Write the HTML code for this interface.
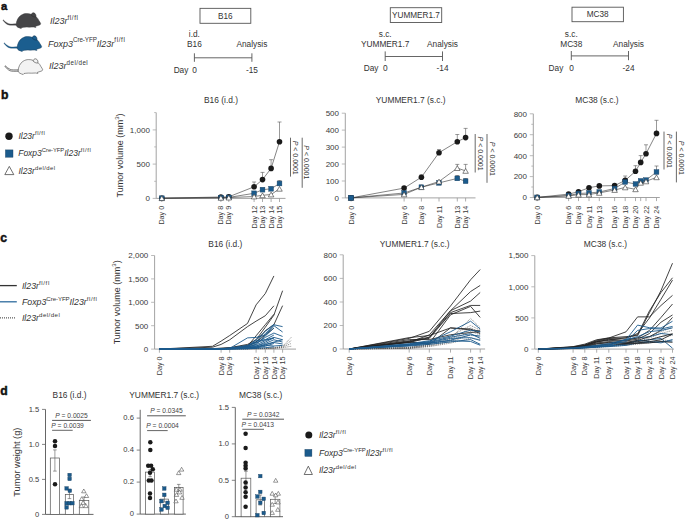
<!DOCTYPE html>
<html><head><meta charset="utf-8"><title>Figure</title>
<style>
html,body{margin:0;padding:0;background:#fff;overflow:hidden;width:685px;height:521px;}
svg{display:block;font-family:"Liberation Sans", sans-serif;fill:#333;}
</style></head>
<body>
<svg width="685" height="521" viewBox="0 0 685 521">
<rect width="685" height="521" fill="#fff"/>
<text x="1.0" y="10.3" font-size="11.3" font-weight="bold" fill="#111" stroke="#111" stroke-width="0.45">a</text>
<g transform="translate(0,0)"><path d="M16.9,23.8 C13,23.9 10,24.1 8.2,23.4 C6.5,22.7 4.8,21.2 3.4,19.9 C3.1,19.7 2.8,20.1 3.0,20.4 C4.4,22.2 6,23.8 7.8,24.7 C9.8,25.5 13,25.3 16.9,25.2 Z" fill="#454547" stroke="#3a3a3c" stroke-width="0.25"/><path d="M16.1,25.1 C16.3,21 18,17.3 21,15.3 C23,14 25,13.6 26.3,13.6 C28,13.5 29.8,13.8 31,14.3 C35,15.2 37.6,17.6 38.9,20.5 C39.8,21.8 40.5,23 40.7,23.8 C40.4,24.6 39.9,25 39.4,25.1 C38,25.6 36.8,26 35.5,26.3 L35.9,27.4 L33.5,27 C31,27.2 28.5,27.2 26.3,27.1 C24.5,27.2 23,27.3 22,27.5 L21.2,28.5 L19.6,28 C18.3,27.6 17.3,27 16.8,26.4 Z" fill="#454547" stroke="#3a3a3c" stroke-width="0.5" stroke-linejoin="round"/><path d="M31.0,14.9 C31.4,13.8 32.2,12.9 33.3,12.8 C34.4,12.7 35.3,13.7 35.8,14.9 C36.1,15.7 36.1,16.5 35.7,17.1 C34.2,17.1 32.3,16.4 31.0,14.9 Z" fill="#454547" stroke="#2a2a2c" stroke-width="0.55"/></g>
<g transform="translate(1.0,23.0)"><path d="M16.9,23.8 C13,23.9 10,24.1 8.2,23.4 C6.5,22.7 4.8,21.2 3.4,19.9 C3.1,19.7 2.8,20.1 3.0,20.4 C4.4,22.2 6,23.8 7.8,24.7 C9.8,25.5 13,25.3 16.9,25.2 Z" fill="#1b5e8f" stroke="#173c5a" stroke-width="0.25"/><path d="M16.1,25.1 C16.3,21 18,17.3 21,15.3 C23,14 25,13.6 26.3,13.6 C28,13.5 29.8,13.8 31,14.3 C35,15.2 37.6,17.6 38.9,20.5 C39.8,21.8 40.5,23 40.7,23.8 C40.4,24.6 39.9,25 39.4,25.1 C38,25.6 36.8,26 35.5,26.3 L35.9,27.4 L33.5,27 C31,27.2 28.5,27.2 26.3,27.1 C24.5,27.2 23,27.3 22,27.5 L21.2,28.5 L19.6,28 C18.3,27.6 17.3,27 16.8,26.4 Z" fill="#1b5e8f" stroke="#173c5a" stroke-width="0.5" stroke-linejoin="round"/><path d="M31.0,14.9 C31.4,13.8 32.2,12.9 33.3,12.8 C34.4,12.7 35.3,13.7 35.8,14.9 C36.1,15.7 36.1,16.5 35.7,17.1 C34.2,17.1 32.3,16.4 31.0,14.9 Z" fill="#1b5e8f" stroke="#12304a" stroke-width="0.55"/></g>
<g transform="translate(2.0,46.0)"><path d="M16.9,23.8 C13,23.9 10,24.1 8.2,23.4 C6.5,22.7 4.8,21.2 3.4,19.9 C3.1,19.7 2.8,20.1 3.0,20.4 C4.4,22.2 6,23.8 7.8,24.7 C9.8,25.5 13,25.3 16.9,25.2 Z" fill="#f3f3f3" stroke="#2a2a2a" stroke-width="0.6"/><path d="M16.1,25.1 C16.3,21 18,17.3 21,15.3 C23,14 25,13.6 26.3,13.6 C28,13.5 29.8,13.8 31,14.3 C35,15.2 37.6,17.6 38.9,20.5 C39.8,21.8 40.5,23 40.7,23.8 C40.4,24.6 39.9,25 39.4,25.1 C38,25.6 36.8,26 35.5,26.3 L35.9,27.4 L33.5,27 C31,27.2 28.5,27.2 26.3,27.1 C24.5,27.2 23,27.3 22,27.5 L21.2,28.5 L19.6,28 C18.3,27.6 17.3,27 16.8,26.4 Z" fill="#f3f3f3" stroke="#2a2a2a" stroke-width="0.5" stroke-linejoin="round"/><path d="M31.0,14.9 C31.4,13.8 32.2,12.9 33.3,12.8 C34.4,12.7 35.3,13.7 35.8,14.9 C36.1,15.7 36.1,16.5 35.7,17.1 C34.2,17.1 32.3,16.4 31.0,14.9 Z" fill="#f3f3f3" stroke="#2a2a2a" stroke-width="0.55"/></g>
<text x="50.00" y="23.60" font-size="9.0" font-style="italic">Il23r<tspan font-size="6.30" font-style="normal" letter-spacing="0.6" dy="-4.05">fl/fl</tspan></text>
<text x="48.00" y="46.50" font-size="9.0" font-style="italic">Foxp3<tspan font-size="6.30" font-style="normal" letter-spacing="-0.1" dy="-4.05">Cre-YFP</tspan><tspan dy="4.05">Il23r</tspan><tspan font-size="6.30" font-style="normal" letter-spacing="0.6" dy="-4.05">fl/fl</tspan></text>
<text x="49.00" y="69.20" font-size="9.0" font-style="italic">Il23r<tspan font-size="6.30" font-style="normal" letter-spacing="0.45" dy="-4.05">del/del</tspan></text>
<rect x="200.00" y="8.35" width="50.80" height="14.95" fill="none" stroke="#555" stroke-width="0.9"/>
<text x="225.40" y="18.80" font-size="8.2" text-anchor="middle">B16</text>
<text x="194.40" y="36.90" font-size="8.3" text-anchor="middle">i.d.</text>
<text x="194.40" y="46.60" font-size="8.3" text-anchor="middle">B16</text>
<text x="251.90" y="46.60" font-size="8.3" text-anchor="middle">Analysis</text>
<line x1="194.40" y1="53.30" x2="194.40" y2="61.80" stroke="#555" stroke-width="0.9" />
<line x1="251.90" y1="53.30" x2="251.90" y2="61.80" stroke="#555" stroke-width="0.9" />
<line x1="194.40" y1="57.80" x2="251.90" y2="57.80" stroke="#555" stroke-width="0.9" />
<text x="194.60" y="73.00" font-size="8.3" text-anchor="middle">0</text>
<text x="188.40" y="73.00" font-size="8.3" text-anchor="end">Day</text>
<text x="251.90" y="73.00" font-size="8.3" text-anchor="middle">-15</text>
<rect x="390.30" y="7.70" width="51.40" height="14.80" fill="none" stroke="#555" stroke-width="0.9"/>
<text x="416.00" y="18.00" font-size="8.2" text-anchor="middle">YUMMER1.7</text>
<text x="385.20" y="36.90" font-size="8.3" text-anchor="middle">s.c.</text>
<text x="385.20" y="46.60" font-size="8.3" text-anchor="middle">YUMMER1.7</text>
<text x="442.50" y="46.60" font-size="8.3" text-anchor="middle">Analysis</text>
<line x1="385.20" y1="51.40" x2="385.20" y2="61.00" stroke="#555" stroke-width="0.9" />
<line x1="442.50" y1="51.40" x2="442.50" y2="61.00" stroke="#555" stroke-width="0.9" />
<line x1="385.20" y1="56.50" x2="442.50" y2="56.50" stroke="#555" stroke-width="0.9" />
<text x="385.40" y="71.10" font-size="8.3" text-anchor="middle">0</text>
<text x="378.50" y="71.10" font-size="8.3" text-anchor="end">Day</text>
<text x="442.50" y="71.10" font-size="8.3" text-anchor="middle">-14</text>
<rect x="572.00" y="7.20" width="51.40" height="14.50" fill="none" stroke="#555" stroke-width="0.9"/>
<text x="597.70" y="17.40" font-size="8.2" text-anchor="middle">MC38</text>
<text x="571.30" y="36.90" font-size="8.3" text-anchor="middle">s.c.</text>
<text x="571.30" y="46.60" font-size="8.3" text-anchor="middle">MC38</text>
<text x="628.50" y="46.60" font-size="8.3" text-anchor="middle">Analysis</text>
<line x1="571.30" y1="51.00" x2="571.30" y2="60.20" stroke="#555" stroke-width="0.9" />
<line x1="628.50" y1="51.00" x2="628.50" y2="60.20" stroke="#555" stroke-width="0.9" />
<line x1="571.30" y1="55.90" x2="628.50" y2="55.90" stroke="#555" stroke-width="0.9" />
<text x="571.50" y="70.70" font-size="8.3" text-anchor="middle">0</text>
<text x="563.30" y="70.70" font-size="8.3" text-anchor="end">Day</text>
<text x="628.50" y="70.70" font-size="8.3" text-anchor="middle">-24</text>
<text x="1.0" y="98.7" font-size="12.2" font-weight="bold" fill="#111" stroke="#111" stroke-width="0.45">b</text>
<circle cx="9.00" cy="136.20" r="3.7" fill="#1a1a1a"/>
<text x="18.40" y="138.90" font-size="8.5" font-style="italic">Il23r<tspan font-size="5.95" font-style="normal" letter-spacing="0.6" dy="-3.83">fl/fl</tspan></text>
<rect x="5.40" y="149.90" width="7.60" height="7.30" fill="#1b5b8c" stroke="#1a3f5f" stroke-width="0.4"/>
<text x="18.20" y="155.80" font-size="8.5" font-style="italic">Foxp3<tspan font-size="5.95" font-style="normal" letter-spacing="-0.1" dy="-3.83">Cre-YFP</tspan><tspan dy="3.83">Il23r</tspan><tspan font-size="5.95" font-style="normal" letter-spacing="0.6" dy="-3.83">fl/fl</tspan></text>
<path d="M4.8,174.6 L9.3,166.4 L13.8,174.6 Z" fill="#fff" stroke="#333" stroke-width="0.7"/>
<text x="18.40" y="173.70" font-size="8.5" font-style="italic">Il23r<tspan font-size="5.95" font-style="normal" letter-spacing="0.45" dy="-3.83">del/del</tspan></text>
<text x="221.00" y="102.90" font-size="8.4" text-anchor="middle">B16 (i.d.)</text>
<line x1="156.20" y1="112.60" x2="156.20" y2="198.40" stroke="#999" stroke-width="0.9" />
<line x1="152.70" y1="198.40" x2="156.20" y2="198.40" stroke="#aaa" stroke-width="0.8" />
<text x="149.90" y="201.20" font-size="8.0" text-anchor="end" fill="#3a3a3a">0</text>
<line x1="152.70" y1="164.10" x2="156.20" y2="164.10" stroke="#aaa" stroke-width="0.8" />
<text x="149.90" y="166.90" font-size="8.0" text-anchor="end" fill="#3a3a3a">500</text>
<line x1="152.70" y1="129.90" x2="156.20" y2="129.90" stroke="#aaa" stroke-width="0.8" />
<text x="149.90" y="132.70" font-size="8.0" text-anchor="end" fill="#3a3a3a">1,000</text>
<line x1="154.20" y1="181.30" x2="156.20" y2="181.30" stroke="#aaa" stroke-width="0.8" />
<line x1="154.20" y1="146.90" x2="156.20" y2="146.90" stroke="#aaa" stroke-width="0.8" />
<line x1="154.20" y1="112.60" x2="156.20" y2="112.60" stroke="#aaa" stroke-width="0.8" />
<line x1="156.20" y1="198.40" x2="285.50" y2="198.40" stroke="#999" stroke-width="0.9" />
<line x1="161.80" y1="198.40" x2="161.80" y2="202.00" stroke="#999" stroke-width="0.8" />
<text x="164.40" y="205.80" font-size="7.2" text-anchor="end" fill="#3a3a3a" transform="rotate(-90 164.40 205.80)">Day 0</text>
<line x1="220.90" y1="198.40" x2="220.90" y2="202.00" stroke="#999" stroke-width="0.8" />
<text x="223.50" y="205.80" font-size="7.2" text-anchor="end" fill="#3a3a3a" transform="rotate(-90 223.50 205.80)">Day 8</text>
<line x1="228.80" y1="198.40" x2="228.80" y2="202.00" stroke="#999" stroke-width="0.8" />
<text x="231.40" y="205.80" font-size="7.2" text-anchor="end" fill="#3a3a3a" transform="rotate(-90 231.40 205.80)">Day 9</text>
<line x1="254.10" y1="198.40" x2="254.10" y2="202.00" stroke="#999" stroke-width="0.8" />
<text x="256.70" y="205.80" font-size="7.2" text-anchor="end" fill="#3a3a3a" transform="rotate(-90 256.70 205.80)">Day 12</text>
<line x1="262.50" y1="198.40" x2="262.50" y2="202.00" stroke="#999" stroke-width="0.8" />
<text x="265.10" y="205.80" font-size="7.2" text-anchor="end" fill="#3a3a3a" transform="rotate(-90 265.10 205.80)">Day 13</text>
<line x1="271.10" y1="198.40" x2="271.10" y2="202.00" stroke="#999" stroke-width="0.8" />
<text x="273.70" y="205.80" font-size="7.2" text-anchor="end" fill="#3a3a3a" transform="rotate(-90 273.70 205.80)">Day 14</text>
<line x1="279.50" y1="198.40" x2="279.50" y2="202.00" stroke="#999" stroke-width="0.8" />
<text x="282.10" y="205.80" font-size="7.2" text-anchor="end" fill="#3a3a3a" transform="rotate(-90 282.10 205.80)">Day 15</text>
<text x="122.80" y="155.5" font-size="9" text-anchor="middle" transform="rotate(-90 122.80 155.5)">Tumor volume (mm<tspan font-size="6" dy="-3.5">3</tspan><tspan dy="3.5">)</tspan></text>
<polyline points="161.80,198.20 220.90,197.00 228.80,196.80 254.10,186.80 262.50,179.60 271.10,168.40 279.50,141.70" fill="none" stroke="#333" stroke-width="0.6" />
<line x1="254.10" y1="182.00" x2="254.10" y2="186.80" stroke="#555" stroke-width="0.6" />
<line x1="252.10" y1="182.00" x2="256.10" y2="182.00" stroke="#555" stroke-width="0.6" />
<line x1="262.50" y1="172.40" x2="262.50" y2="179.60" stroke="#555" stroke-width="0.6" />
<line x1="260.50" y1="172.40" x2="264.50" y2="172.40" stroke="#555" stroke-width="0.6" />
<line x1="271.10" y1="159.70" x2="271.10" y2="168.40" stroke="#555" stroke-width="0.6" />
<line x1="269.10" y1="159.70" x2="273.10" y2="159.70" stroke="#555" stroke-width="0.6" />
<line x1="279.50" y1="122.00" x2="279.50" y2="141.70" stroke="#555" stroke-width="0.6" />
<line x1="277.50" y1="122.00" x2="281.50" y2="122.00" stroke="#555" stroke-width="0.6" />
<circle cx="161.80" cy="198.20" r="2.8" fill="#1a1a1a"/>
<circle cx="220.90" cy="197.00" r="2.8" fill="#1a1a1a"/>
<circle cx="228.80" cy="196.80" r="2.8" fill="#1a1a1a"/>
<circle cx="254.10" cy="186.80" r="2.8" fill="#1a1a1a"/>
<circle cx="262.50" cy="179.60" r="2.8" fill="#1a1a1a"/>
<circle cx="271.10" cy="168.40" r="2.8" fill="#1a1a1a"/>
<circle cx="279.50" cy="141.70" r="2.8" fill="#1a1a1a"/>
<polyline points="161.80,198.20 220.90,197.60 228.80,197.40 254.10,193.30 262.50,189.70 271.10,188.80 279.50,183.50" fill="none" stroke="#333" stroke-width="0.6" />
<line x1="254.10" y1="191.50" x2="254.10" y2="193.30" stroke="#555" stroke-width="0.6" />
<line x1="252.10" y1="191.50" x2="256.10" y2="191.50" stroke="#555" stroke-width="0.6" />
<line x1="262.50" y1="188.00" x2="262.50" y2="189.70" stroke="#555" stroke-width="0.6" />
<line x1="260.50" y1="188.00" x2="264.50" y2="188.00" stroke="#555" stroke-width="0.6" />
<line x1="271.10" y1="187.00" x2="271.10" y2="188.80" stroke="#555" stroke-width="0.6" />
<line x1="269.10" y1="187.00" x2="273.10" y2="187.00" stroke="#555" stroke-width="0.6" />
<line x1="279.50" y1="180.50" x2="279.50" y2="183.50" stroke="#555" stroke-width="0.6" />
<line x1="277.50" y1="180.50" x2="281.50" y2="180.50" stroke="#555" stroke-width="0.6" />
<rect x="159.40" y="195.80" width="4.80" height="4.80" fill="#1b5b8c" stroke="#1a3f5f" stroke-width="0.4"/>
<rect x="218.50" y="195.20" width="4.80" height="4.80" fill="#1b5b8c" stroke="#1a3f5f" stroke-width="0.4"/>
<rect x="226.40" y="195.00" width="4.80" height="4.80" fill="#1b5b8c" stroke="#1a3f5f" stroke-width="0.4"/>
<rect x="251.70" y="190.90" width="4.80" height="4.80" fill="#1b5b8c" stroke="#1a3f5f" stroke-width="0.4"/>
<rect x="260.10" y="187.30" width="4.80" height="4.80" fill="#1b5b8c" stroke="#1a3f5f" stroke-width="0.4"/>
<rect x="268.70" y="186.40" width="4.80" height="4.80" fill="#1b5b8c" stroke="#1a3f5f" stroke-width="0.4"/>
<rect x="277.10" y="181.10" width="4.80" height="4.80" fill="#1b5b8c" stroke="#1a3f5f" stroke-width="0.4"/>
<polyline points="161.80,198.20 220.90,197.80 228.80,197.60 254.10,196.50 262.50,195.30 271.10,194.50 279.50,188.80" fill="none" stroke="#333" stroke-width="0.6" />
<path d="M159.04,200.60L161.80,195.80L164.56,200.60Z" fill="#fff" stroke="#333" stroke-width="0.6" stroke-linejoin="miter"/>
<path d="M218.14,200.20L220.90,195.40L223.66,200.20Z" fill="#fff" stroke="#333" stroke-width="0.6" stroke-linejoin="miter"/>
<path d="M226.04,200.00L228.80,195.20L231.56,200.00Z" fill="#fff" stroke="#333" stroke-width="0.6" stroke-linejoin="miter"/>
<path d="M251.34,198.90L254.10,194.10L256.86,198.90Z" fill="#fff" stroke="#333" stroke-width="0.6" stroke-linejoin="miter"/>
<path d="M259.74,197.70L262.50,192.90L265.26,197.70Z" fill="#fff" stroke="#333" stroke-width="0.6" stroke-linejoin="miter"/>
<path d="M268.34,196.90L271.10,192.10L273.86,196.90Z" fill="#fff" stroke="#333" stroke-width="0.6" stroke-linejoin="miter"/>
<path d="M276.74,191.20L279.50,186.40L282.26,191.20Z" fill="#fff" stroke="#333" stroke-width="0.6" stroke-linejoin="miter"/>
<line x1="290.50" y1="137.70" x2="290.50" y2="176.60" stroke="#444" stroke-width="0.8" />
<text x="293.20" y="157.70" font-size="7.0" text-anchor="middle" transform="rotate(90 293.20 157.70)"><tspan font-style="italic">P</tspan> &lt; 0.0001</text>
<line x1="302.20" y1="137.70" x2="302.20" y2="187.80" stroke="#444" stroke-width="0.8" />
<text x="304.40" y="162.30" font-size="7.0" text-anchor="middle" transform="rotate(90 304.40 162.30)"><tspan font-style="italic">P</tspan> &lt; 0.0001</text>
<text x="410.70" y="102.90" font-size="8.4" text-anchor="middle">YUMMER1.7 (s.c.)</text>
<line x1="345.30" y1="113.20" x2="345.30" y2="197.90" stroke="#999" stroke-width="0.9" />
<line x1="341.80" y1="197.90" x2="345.30" y2="197.90" stroke="#aaa" stroke-width="0.8" />
<text x="339.00" y="200.70" font-size="8.0" text-anchor="end" fill="#3a3a3a">0</text>
<line x1="341.80" y1="181.00" x2="345.30" y2="181.00" stroke="#aaa" stroke-width="0.8" />
<text x="339.00" y="183.80" font-size="8.0" text-anchor="end" fill="#3a3a3a">100</text>
<line x1="341.80" y1="164.00" x2="345.30" y2="164.00" stroke="#aaa" stroke-width="0.8" />
<text x="339.00" y="166.80" font-size="8.0" text-anchor="end" fill="#3a3a3a">200</text>
<line x1="341.80" y1="147.10" x2="345.30" y2="147.10" stroke="#aaa" stroke-width="0.8" />
<text x="339.00" y="149.90" font-size="8.0" text-anchor="end" fill="#3a3a3a">300</text>
<line x1="341.80" y1="130.10" x2="345.30" y2="130.10" stroke="#aaa" stroke-width="0.8" />
<text x="339.00" y="132.90" font-size="8.0" text-anchor="end" fill="#3a3a3a">400</text>
<line x1="341.80" y1="113.20" x2="345.30" y2="113.20" stroke="#aaa" stroke-width="0.8" />
<text x="339.00" y="116.00" font-size="8.0" text-anchor="end" fill="#3a3a3a">500</text>
<line x1="345.30" y1="197.90" x2="475.50" y2="197.90" stroke="#999" stroke-width="0.9" />
<line x1="351.10" y1="197.90" x2="351.10" y2="201.50" stroke="#999" stroke-width="0.8" />
<text x="353.70" y="205.80" font-size="7.2" text-anchor="end" fill="#3a3a3a" transform="rotate(-90 353.70 205.80)">Day 0</text>
<line x1="404.10" y1="197.90" x2="404.10" y2="201.50" stroke="#999" stroke-width="0.8" />
<text x="406.70" y="205.80" font-size="7.2" text-anchor="end" fill="#3a3a3a" transform="rotate(-90 406.70 205.80)">Day 6</text>
<line x1="421.40" y1="197.90" x2="421.40" y2="201.50" stroke="#999" stroke-width="0.8" />
<text x="424.00" y="205.80" font-size="7.2" text-anchor="end" fill="#3a3a3a" transform="rotate(-90 424.00 205.80)">Day 8</text>
<line x1="439.00" y1="197.90" x2="439.00" y2="201.50" stroke="#999" stroke-width="0.8" />
<text x="441.60" y="205.80" font-size="7.2" text-anchor="end" fill="#3a3a3a" transform="rotate(-90 441.60 205.80)">Day 11</text>
<line x1="457.30" y1="197.90" x2="457.30" y2="201.50" stroke="#999" stroke-width="0.8" />
<text x="459.90" y="205.80" font-size="7.2" text-anchor="end" fill="#3a3a3a" transform="rotate(-90 459.90 205.80)">Day 13</text>
<line x1="465.60" y1="197.90" x2="465.60" y2="201.50" stroke="#999" stroke-width="0.8" />
<text x="468.20" y="205.80" font-size="7.2" text-anchor="end" fill="#3a3a3a" transform="rotate(-90 468.20 205.80)">Day 14</text>
<polyline points="351.10,197.90 404.10,188.10 421.40,177.20 439.00,152.70 457.30,141.70 465.60,137.60" fill="none" stroke="#333" stroke-width="0.6" />
<line x1="421.40" y1="174.90" x2="421.40" y2="177.20" stroke="#555" stroke-width="0.6" />
<line x1="419.40" y1="174.90" x2="423.40" y2="174.90" stroke="#555" stroke-width="0.6" />
<line x1="439.00" y1="149.50" x2="439.00" y2="152.70" stroke="#555" stroke-width="0.6" />
<line x1="437.00" y1="149.50" x2="441.00" y2="149.50" stroke="#555" stroke-width="0.6" />
<line x1="457.30" y1="134.50" x2="457.30" y2="141.70" stroke="#555" stroke-width="0.6" />
<line x1="455.30" y1="134.50" x2="459.30" y2="134.50" stroke="#555" stroke-width="0.6" />
<line x1="465.60" y1="128.40" x2="465.60" y2="137.60" stroke="#555" stroke-width="0.6" />
<line x1="463.60" y1="128.40" x2="467.60" y2="128.40" stroke="#555" stroke-width="0.6" />
<circle cx="351.10" cy="197.90" r="2.8" fill="#1a1a1a"/>
<circle cx="404.10" cy="188.10" r="2.8" fill="#1a1a1a"/>
<circle cx="421.40" cy="177.20" r="2.8" fill="#1a1a1a"/>
<circle cx="439.00" cy="152.70" r="2.8" fill="#1a1a1a"/>
<circle cx="457.30" cy="141.70" r="2.8" fill="#1a1a1a"/>
<circle cx="465.60" cy="137.60" r="2.8" fill="#1a1a1a"/>
<polyline points="351.10,197.90 404.10,193.00 421.40,187.20 439.00,182.90 457.30,178.40 465.60,181.20" fill="none" stroke="#333" stroke-width="0.6" />
<line x1="457.30" y1="175.50" x2="457.30" y2="178.40" stroke="#555" stroke-width="0.6" />
<line x1="455.30" y1="175.50" x2="459.30" y2="175.50" stroke="#555" stroke-width="0.6" />
<line x1="465.60" y1="178.50" x2="465.60" y2="181.20" stroke="#555" stroke-width="0.6" />
<line x1="463.60" y1="178.50" x2="467.60" y2="178.50" stroke="#555" stroke-width="0.6" />
<rect x="348.70" y="195.50" width="4.80" height="4.80" fill="#1b5b8c" stroke="#1a3f5f" stroke-width="0.4"/>
<rect x="401.70" y="190.60" width="4.80" height="4.80" fill="#1b5b8c" stroke="#1a3f5f" stroke-width="0.4"/>
<rect x="419.00" y="184.80" width="4.80" height="4.80" fill="#1b5b8c" stroke="#1a3f5f" stroke-width="0.4"/>
<rect x="436.60" y="180.50" width="4.80" height="4.80" fill="#1b5b8c" stroke="#1a3f5f" stroke-width="0.4"/>
<rect x="454.90" y="176.00" width="4.80" height="4.80" fill="#1b5b8c" stroke="#1a3f5f" stroke-width="0.4"/>
<rect x="463.20" y="178.80" width="4.80" height="4.80" fill="#1b5b8c" stroke="#1a3f5f" stroke-width="0.4"/>
<polyline points="351.10,197.90 404.10,194.40 421.40,187.20 439.00,181.50 457.30,168.10 465.60,170.90" fill="none" stroke="#333" stroke-width="0.6" />
<line x1="457.30" y1="164.40" x2="457.30" y2="168.10" stroke="#555" stroke-width="0.6" />
<line x1="455.30" y1="164.40" x2="459.30" y2="164.40" stroke="#555" stroke-width="0.6" />
<line x1="465.60" y1="164.40" x2="465.60" y2="170.90" stroke="#555" stroke-width="0.6" />
<line x1="463.60" y1="164.40" x2="467.60" y2="164.40" stroke="#555" stroke-width="0.6" />
<path d="M348.34,200.30L351.10,195.50L353.86,200.30Z" fill="#fff" stroke="#333" stroke-width="0.6" stroke-linejoin="miter"/>
<path d="M401.34,196.80L404.10,192.00L406.86,196.80Z" fill="#fff" stroke="#333" stroke-width="0.6" stroke-linejoin="miter"/>
<path d="M418.64,189.60L421.40,184.80L424.16,189.60Z" fill="#fff" stroke="#333" stroke-width="0.6" stroke-linejoin="miter"/>
<path d="M436.24,183.90L439.00,179.10L441.76,183.90Z" fill="#fff" stroke="#333" stroke-width="0.6" stroke-linejoin="miter"/>
<path d="M454.54,170.50L457.30,165.70L460.06,170.50Z" fill="#fff" stroke="#333" stroke-width="0.6" stroke-linejoin="miter"/>
<path d="M462.84,173.30L465.60,168.50L468.36,173.30Z" fill="#fff" stroke="#333" stroke-width="0.6" stroke-linejoin="miter"/>
<line x1="475.20" y1="134.00" x2="475.20" y2="172.50" stroke="#444" stroke-width="0.8" />
<text x="478.40" y="153.60" font-size="7.0" text-anchor="middle" transform="rotate(90 478.40 153.60)"><tspan font-style="italic">P</tspan> &lt; 0.0001</text>
<line x1="487.00" y1="134.00" x2="487.00" y2="182.80" stroke="#444" stroke-width="0.8" />
<text x="490.40" y="158.90" font-size="7.0" text-anchor="middle" transform="rotate(90 490.40 158.90)"><tspan font-style="italic">P</tspan> &lt; 0.0001</text>
<rect x="348.70" y="195.50" width="4.80" height="4.80" fill="#1b5b8c" stroke="#1a3f5f" stroke-width="0.4"/>
<text x="597.00" y="102.90" font-size="8.4" text-anchor="middle">MC38 (s.c.)</text>
<line x1="533.30" y1="113.80" x2="533.30" y2="197.50" stroke="#999" stroke-width="0.9" />
<line x1="529.80" y1="197.50" x2="533.30" y2="197.50" stroke="#aaa" stroke-width="0.8" />
<text x="527.00" y="200.30" font-size="8.0" text-anchor="end" fill="#3a3a3a">0</text>
<line x1="529.80" y1="176.60" x2="533.30" y2="176.60" stroke="#aaa" stroke-width="0.8" />
<text x="527.00" y="179.40" font-size="8.0" text-anchor="end" fill="#3a3a3a">200</text>
<line x1="529.80" y1="155.70" x2="533.30" y2="155.70" stroke="#aaa" stroke-width="0.8" />
<text x="527.00" y="158.50" font-size="8.0" text-anchor="end" fill="#3a3a3a">400</text>
<line x1="529.80" y1="134.70" x2="533.30" y2="134.70" stroke="#aaa" stroke-width="0.8" />
<text x="527.00" y="137.50" font-size="8.0" text-anchor="end" fill="#3a3a3a">600</text>
<line x1="529.80" y1="113.80" x2="533.30" y2="113.80" stroke="#aaa" stroke-width="0.8" />
<text x="527.00" y="116.60" font-size="8.0" text-anchor="end" fill="#3a3a3a">800</text>
<line x1="531.30" y1="187.00" x2="533.30" y2="187.00" stroke="#aaa" stroke-width="0.8" />
<line x1="531.30" y1="166.10" x2="533.30" y2="166.10" stroke="#aaa" stroke-width="0.8" />
<line x1="531.30" y1="145.20" x2="533.30" y2="145.20" stroke="#aaa" stroke-width="0.8" />
<line x1="531.30" y1="124.30" x2="533.30" y2="124.30" stroke="#aaa" stroke-width="0.8" />
<line x1="533.30" y1="197.50" x2="659.80" y2="197.50" stroke="#999" stroke-width="0.9" />
<line x1="537.20" y1="197.50" x2="537.20" y2="201.10" stroke="#999" stroke-width="0.8" />
<text x="539.80" y="205.80" font-size="7.2" text-anchor="end" fill="#3a3a3a" transform="rotate(-90 539.80 205.80)">Day 0</text>
<line x1="568.60" y1="197.50" x2="568.60" y2="201.10" stroke="#999" stroke-width="0.8" />
<text x="571.20" y="205.80" font-size="7.2" text-anchor="end" fill="#3a3a3a" transform="rotate(-90 571.20 205.80)">Day 6</text>
<line x1="578.50" y1="197.50" x2="578.50" y2="201.10" stroke="#999" stroke-width="0.8" />
<text x="581.10" y="205.80" font-size="7.2" text-anchor="end" fill="#3a3a3a" transform="rotate(-90 581.10 205.80)">Day 8</text>
<line x1="589.00" y1="197.50" x2="589.00" y2="201.10" stroke="#999" stroke-width="0.8" />
<text x="591.60" y="205.80" font-size="7.2" text-anchor="end" fill="#3a3a3a" transform="rotate(-90 591.60 205.80)">Day 11</text>
<line x1="599.30" y1="197.50" x2="599.30" y2="201.10" stroke="#999" stroke-width="0.8" />
<text x="601.90" y="205.80" font-size="7.2" text-anchor="end" fill="#3a3a3a" transform="rotate(-90 601.90 205.80)">Day 13</text>
<line x1="614.60" y1="197.50" x2="614.60" y2="201.10" stroke="#999" stroke-width="0.8" />
<text x="617.20" y="205.80" font-size="7.2" text-anchor="end" fill="#3a3a3a" transform="rotate(-90 617.20 205.80)">Day 16</text>
<line x1="625.20" y1="197.50" x2="625.20" y2="201.10" stroke="#999" stroke-width="0.8" />
<text x="627.80" y="205.80" font-size="7.2" text-anchor="end" fill="#3a3a3a" transform="rotate(-90 627.80 205.80)">Day 18</text>
<line x1="635.50" y1="197.50" x2="635.50" y2="201.10" stroke="#999" stroke-width="0.8" />
<text x="638.10" y="205.80" font-size="7.2" text-anchor="end" fill="#3a3a3a" transform="rotate(-90 638.10 205.80)">Day 20</text>
<line x1="640.70" y1="197.50" x2="640.70" y2="201.10" stroke="#999" stroke-width="0.8" />
<line x1="646.00" y1="197.50" x2="646.00" y2="201.10" stroke="#999" stroke-width="0.8" />
<text x="648.60" y="205.80" font-size="7.2" text-anchor="end" fill="#3a3a3a" transform="rotate(-90 648.60 205.80)">Day 22</text>
<line x1="656.50" y1="197.50" x2="656.50" y2="201.10" stroke="#999" stroke-width="0.8" />
<text x="659.10" y="205.80" font-size="7.2" text-anchor="end" fill="#3a3a3a" transform="rotate(-90 659.10 205.80)">Day 24</text>
<polyline points="537.20,197.40 568.60,194.10 578.50,191.70 589.00,187.70 599.30,185.90 614.60,185.60 625.20,180.40 635.50,171.30 640.70,162.40 646.00,153.70 656.50,133.40" fill="none" stroke="#333" stroke-width="0.6" />
<line x1="625.20" y1="176.00" x2="625.20" y2="180.40" stroke="#555" stroke-width="0.6" />
<line x1="623.20" y1="176.00" x2="627.20" y2="176.00" stroke="#555" stroke-width="0.6" />
<line x1="635.50" y1="165.70" x2="635.50" y2="171.30" stroke="#555" stroke-width="0.6" />
<line x1="633.50" y1="165.70" x2="637.50" y2="165.70" stroke="#555" stroke-width="0.6" />
<line x1="640.70" y1="155.60" x2="640.70" y2="162.40" stroke="#555" stroke-width="0.6" />
<line x1="638.70" y1="155.60" x2="642.70" y2="155.60" stroke="#555" stroke-width="0.6" />
<line x1="646.00" y1="144.80" x2="646.00" y2="153.70" stroke="#555" stroke-width="0.6" />
<line x1="644.00" y1="144.80" x2="648.00" y2="144.80" stroke="#555" stroke-width="0.6" />
<line x1="656.50" y1="120.30" x2="656.50" y2="133.40" stroke="#555" stroke-width="0.6" />
<line x1="654.50" y1="120.30" x2="658.50" y2="120.30" stroke="#555" stroke-width="0.6" />
<circle cx="537.20" cy="197.40" r="2.8" fill="#1a1a1a"/>
<circle cx="568.60" cy="194.10" r="2.8" fill="#1a1a1a"/>
<circle cx="578.50" cy="191.70" r="2.8" fill="#1a1a1a"/>
<circle cx="589.00" cy="187.70" r="2.8" fill="#1a1a1a"/>
<circle cx="599.30" cy="185.90" r="2.8" fill="#1a1a1a"/>
<circle cx="614.60" cy="185.60" r="2.8" fill="#1a1a1a"/>
<circle cx="625.20" cy="180.40" r="2.8" fill="#1a1a1a"/>
<circle cx="635.50" cy="171.30" r="2.8" fill="#1a1a1a"/>
<circle cx="640.70" cy="162.40" r="2.8" fill="#1a1a1a"/>
<circle cx="646.00" cy="153.70" r="2.8" fill="#1a1a1a"/>
<circle cx="656.50" cy="133.40" r="2.8" fill="#1a1a1a"/>
<polyline points="537.20,197.40 568.60,195.50 578.50,193.50 589.00,193.00 599.30,192.00 614.60,188.50 625.20,182.00 635.50,184.00 640.70,180.90 646.00,180.10 656.50,172.00" fill="none" stroke="#333" stroke-width="0.6" />
<line x1="656.50" y1="166.00" x2="656.50" y2="172.00" stroke="#555" stroke-width="0.6" />
<line x1="654.50" y1="166.00" x2="658.50" y2="166.00" stroke="#555" stroke-width="0.6" />
<rect x="534.80" y="195.00" width="4.80" height="4.80" fill="#1b5b8c" stroke="#1a3f5f" stroke-width="0.4"/>
<rect x="566.20" y="193.10" width="4.80" height="4.80" fill="#1b5b8c" stroke="#1a3f5f" stroke-width="0.4"/>
<rect x="576.10" y="191.10" width="4.80" height="4.80" fill="#1b5b8c" stroke="#1a3f5f" stroke-width="0.4"/>
<rect x="586.60" y="190.60" width="4.80" height="4.80" fill="#1b5b8c" stroke="#1a3f5f" stroke-width="0.4"/>
<rect x="596.90" y="189.60" width="4.80" height="4.80" fill="#1b5b8c" stroke="#1a3f5f" stroke-width="0.4"/>
<rect x="612.20" y="186.10" width="4.80" height="4.80" fill="#1b5b8c" stroke="#1a3f5f" stroke-width="0.4"/>
<rect x="622.80" y="179.60" width="4.80" height="4.80" fill="#1b5b8c" stroke="#1a3f5f" stroke-width="0.4"/>
<rect x="633.10" y="181.60" width="4.80" height="4.80" fill="#1b5b8c" stroke="#1a3f5f" stroke-width="0.4"/>
<rect x="638.30" y="178.50" width="4.80" height="4.80" fill="#1b5b8c" stroke="#1a3f5f" stroke-width="0.4"/>
<rect x="643.60" y="177.70" width="4.80" height="4.80" fill="#1b5b8c" stroke="#1a3f5f" stroke-width="0.4"/>
<rect x="654.10" y="169.60" width="4.80" height="4.80" fill="#1b5b8c" stroke="#1a3f5f" stroke-width="0.4"/>
<polyline points="537.20,197.40 568.60,195.90 578.50,194.70 589.00,194.50 599.30,192.90 614.60,190.00 625.20,187.40 635.50,189.30 640.70,182.80 646.00,181.40 656.50,177.30" fill="none" stroke="#333" stroke-width="0.6" />
<path d="M534.44,199.80L537.20,195.00L539.96,199.80Z" fill="#fff" stroke="#333" stroke-width="0.6" stroke-linejoin="miter"/>
<path d="M565.84,198.30L568.60,193.50L571.36,198.30Z" fill="#fff" stroke="#333" stroke-width="0.6" stroke-linejoin="miter"/>
<path d="M575.74,197.10L578.50,192.30L581.26,197.10Z" fill="#fff" stroke="#333" stroke-width="0.6" stroke-linejoin="miter"/>
<path d="M586.24,196.90L589.00,192.10L591.76,196.90Z" fill="#fff" stroke="#333" stroke-width="0.6" stroke-linejoin="miter"/>
<path d="M596.54,195.30L599.30,190.50L602.06,195.30Z" fill="#fff" stroke="#333" stroke-width="0.6" stroke-linejoin="miter"/>
<path d="M611.84,192.40L614.60,187.60L617.36,192.40Z" fill="#fff" stroke="#333" stroke-width="0.6" stroke-linejoin="miter"/>
<path d="M622.44,189.80L625.20,185.00L627.96,189.80Z" fill="#fff" stroke="#333" stroke-width="0.6" stroke-linejoin="miter"/>
<path d="M632.74,191.70L635.50,186.90L638.26,191.70Z" fill="#fff" stroke="#333" stroke-width="0.6" stroke-linejoin="miter"/>
<path d="M637.94,185.20L640.70,180.40L643.46,185.20Z" fill="#fff" stroke="#333" stroke-width="0.6" stroke-linejoin="miter"/>
<path d="M643.24,183.80L646.00,179.00L648.76,183.80Z" fill="#fff" stroke="#333" stroke-width="0.6" stroke-linejoin="miter"/>
<path d="M653.74,179.70L656.50,174.90L659.26,179.70Z" fill="#fff" stroke="#333" stroke-width="0.6" stroke-linejoin="miter"/>
<line x1="664.00" y1="131.60" x2="664.00" y2="169.50" stroke="#444" stroke-width="0.8" />
<text x="666.80" y="150.90" font-size="7.0" text-anchor="middle" transform="rotate(90 666.80 150.90)"><tspan font-style="italic">P</tspan> &lt; 0.0001</text>
<line x1="676.40" y1="131.60" x2="676.40" y2="182.40" stroke="#444" stroke-width="0.8" />
<text x="678.80" y="157.90" font-size="7.0" text-anchor="middle" transform="rotate(90 678.80 157.90)"><tspan font-style="italic">P</tspan> &lt; 0.0001</text>
<text x="0.3" y="241.9" font-size="12.2" font-weight="bold" fill="#111" stroke="#111" stroke-width="0.45">c</text>
<line x1="0.00" y1="285.60" x2="16.80" y2="285.60" stroke="#333" stroke-width="1.3" />
<text x="21.90" y="288.70" font-size="8.8" font-style="italic">Il23r<tspan font-size="6.16" font-style="normal" letter-spacing="0.6" dy="-3.96">fl/fl</tspan></text>
<line x1="0.00" y1="301.80" x2="16.80" y2="301.80" stroke="#2e6b9e" stroke-width="1.3" />
<text x="21.90" y="305.00" font-size="8.8" font-style="italic">Foxp3<tspan font-size="6.16" font-style="normal" letter-spacing="-0.1" dy="-3.96">Cre-YFP</tspan><tspan dy="3.96">Il23r</tspan><tspan font-size="6.16" font-style="normal" letter-spacing="0.6" dy="-3.96">fl/fl</tspan></text>
<line x1="0.00" y1="317.90" x2="15.80" y2="317.90" stroke="#333" stroke-width="1.0" stroke-dasharray="1 1"/>
<text x="21.90" y="320.80" font-size="8.8" font-style="italic">Il23r<tspan font-size="6.16" font-style="normal" letter-spacing="0.45" dy="-3.96">del/del</tspan></text>
<text x="225.30" y="246.60" font-size="8.4" text-anchor="middle">B16 (i.d.)</text>
<line x1="154.60" y1="255.50" x2="154.60" y2="349.10" stroke="#999" stroke-width="0.9" />
<line x1="151.10" y1="349.10" x2="154.60" y2="349.10" stroke="#aaa" stroke-width="0.8" />
<text x="148.30" y="351.90" font-size="8.0" text-anchor="end" fill="#3a3a3a">0</text>
<line x1="151.10" y1="325.70" x2="154.60" y2="325.70" stroke="#aaa" stroke-width="0.8" />
<text x="148.30" y="328.50" font-size="8.0" text-anchor="end" fill="#3a3a3a">500</text>
<line x1="151.10" y1="302.30" x2="154.60" y2="302.30" stroke="#aaa" stroke-width="0.8" />
<text x="148.30" y="305.10" font-size="8.0" text-anchor="end" fill="#3a3a3a">1,000</text>
<line x1="151.10" y1="278.90" x2="154.60" y2="278.90" stroke="#aaa" stroke-width="0.8" />
<text x="148.30" y="281.70" font-size="8.0" text-anchor="end" fill="#3a3a3a">1,500</text>
<line x1="151.10" y1="255.50" x2="154.60" y2="255.50" stroke="#aaa" stroke-width="0.8" />
<text x="148.30" y="258.30" font-size="8.0" text-anchor="end" fill="#3a3a3a">2,000</text>
<line x1="154.60" y1="349.10" x2="296.00" y2="349.10" stroke="#999" stroke-width="0.9" />
<line x1="159.40" y1="349.10" x2="159.40" y2="352.70" stroke="#999" stroke-width="0.8" />
<text x="162.00" y="356.50" font-size="7.2" text-anchor="end" fill="#3a3a3a" transform="rotate(-90 162.00 356.50)">Day 0</text>
<line x1="221.10" y1="349.10" x2="221.10" y2="352.70" stroke="#999" stroke-width="0.8" />
<text x="223.70" y="356.50" font-size="7.2" text-anchor="end" fill="#3a3a3a" transform="rotate(-90 223.70 356.50)">Day 8</text>
<line x1="229.70" y1="349.10" x2="229.70" y2="352.70" stroke="#999" stroke-width="0.8" />
<text x="232.30" y="356.50" font-size="7.2" text-anchor="end" fill="#3a3a3a" transform="rotate(-90 232.30 356.50)">Day 9</text>
<line x1="256.10" y1="349.10" x2="256.10" y2="352.70" stroke="#999" stroke-width="0.8" />
<text x="258.70" y="356.50" font-size="7.2" text-anchor="end" fill="#3a3a3a" transform="rotate(-90 258.70 356.50)">Day 12</text>
<line x1="265.30" y1="349.10" x2="265.30" y2="352.70" stroke="#999" stroke-width="0.8" />
<text x="267.90" y="356.50" font-size="7.2" text-anchor="end" fill="#3a3a3a" transform="rotate(-90 267.90 356.50)">Day 13</text>
<line x1="273.90" y1="349.10" x2="273.90" y2="352.70" stroke="#999" stroke-width="0.8" />
<text x="276.50" y="356.50" font-size="7.2" text-anchor="end" fill="#3a3a3a" transform="rotate(-90 276.50 356.50)">Day 14</text>
<line x1="282.60" y1="349.10" x2="282.60" y2="352.70" stroke="#999" stroke-width="0.8" />
<text x="285.20" y="356.50" font-size="7.2" text-anchor="end" fill="#3a3a3a" transform="rotate(-90 285.20 356.50)">Day 15</text>
<text x="119.8" y="302.3" font-size="9" text-anchor="middle" transform="rotate(-90 119.8 302.3)">Tumor volume (mm<tspan font-size="6" dy="-3.5">3</tspan><tspan dy="3.5">)</tspan></text>
<polyline points="159.40,349.10 212.50,346.29 221.10,341.14 229.70,335.53 247.50,323.45 256.10,304.83 265.30,293.55 273.90,275.95" fill="none" stroke="#222" stroke-width="0.85" />
<polyline points="159.40,349.10 212.50,347.23 221.10,344.42 229.70,339.83 247.50,326.64 256.10,321.16 265.30,315.73 273.90,305.81" fill="none" stroke="#222" stroke-width="0.85" />
<polyline points="159.40,349.10 212.50,348.63 221.10,348.16 229.70,347.70 247.50,344.42 256.10,339.74 265.30,327.24 273.90,315.17 282.60,290.69" fill="none" stroke="#222" stroke-width="0.85" />
<polyline points="159.40,349.10 212.50,348.63 221.10,348.40 229.70,347.93 247.50,345.36 256.10,342.08 265.30,330.66 273.90,324.67 282.60,305.67" fill="none" stroke="#222" stroke-width="0.85" />
<polyline points="159.40,349.10 212.50,348.87 221.10,348.63 229.70,348.16 247.50,346.29 256.10,335.81 265.30,324.67 273.90,314.28" fill="none" stroke="#222" stroke-width="0.85" />
<polyline points="159.40,349.10 212.50,348.87 221.10,348.63 229.70,348.40 247.50,346.76 256.10,342.08 265.30,335.06 273.90,328.04" fill="none" stroke="#222" stroke-width="0.85" />
<polyline points="159.40,349.10 212.50,349.01 221.10,348.91 229.70,348.82 247.50,348.63 256.10,348.40 265.30,348.16 273.90,347.70 282.60,346.29 291.20,337.40" fill="none" stroke="#555" stroke-width="0.7" stroke-dasharray="1 0.9"/>
<polyline points="159.40,349.10 212.50,349.01 221.10,348.96 229.70,348.87 247.50,348.73 256.10,348.54 265.30,348.35 273.90,347.93 282.60,346.76 291.20,340.68" fill="none" stroke="#555" stroke-width="0.7" stroke-dasharray="1 0.9"/>
<polyline points="159.40,349.10 212.50,349.05 221.10,349.01 229.70,348.91 247.50,348.82 256.10,348.63 265.30,348.44 273.90,348.16 282.60,347.23 291.20,343.48" fill="none" stroke="#555" stroke-width="0.7" stroke-dasharray="1 0.9"/>
<polyline points="159.40,349.10 212.50,349.05 221.10,349.01 229.70,348.96 247.50,348.87 256.10,348.73 265.30,348.63 273.90,348.40 282.60,347.70 291.20,346.29" fill="none" stroke="#555" stroke-width="0.7" stroke-dasharray="1 0.9"/>
<polyline points="159.40,349.10 212.50,348.87 221.10,348.63 229.70,348.16 247.50,346.29 256.10,342.08 265.30,333.66 273.90,324.76 282.60,326.64" fill="none" stroke="#1c5a8c" stroke-width="0.9" />
<polyline points="159.40,349.10 212.50,348.87 221.10,348.63 229.70,348.40 247.50,337.87 256.10,337.40 265.30,335.06 273.90,325.70 282.60,332.02" fill="none" stroke="#1c5a8c" stroke-width="0.9" />
<polyline points="159.40,349.10 212.50,348.87 221.10,348.73 229.70,348.40 247.50,347.23 256.10,344.42 265.30,336.00 273.90,328.04" fill="none" stroke="#1c5a8c" stroke-width="0.9" />
<polyline points="159.40,349.10 212.50,348.96 221.10,348.73 229.70,348.54 247.50,347.70 256.10,343.48 265.30,337.40 273.90,333.05 282.60,336.46" fill="none" stroke="#1c5a8c" stroke-width="0.9" />
<polyline points="159.40,349.10 212.50,348.96 221.10,348.82 229.70,348.63 247.50,348.16 256.10,346.29 265.30,342.08 273.90,337.63" fill="none" stroke="#1c5a8c" stroke-width="0.9" />
<polyline points="159.40,349.10 212.50,349.01 221.10,348.87 229.70,348.73 247.50,348.40 256.10,347.23 265.30,344.42 273.90,342.08 282.60,339.74" fill="none" stroke="#1c5a8c" stroke-width="0.9" />
<polyline points="159.40,349.10 212.50,349.01 221.10,348.91 229.70,348.82 247.50,348.54 256.10,347.70 265.30,345.36 273.90,346.01 282.60,345.36" fill="none" stroke="#1c5a8c" stroke-width="0.9" />
<polyline points="159.40,349.10 212.50,349.01 221.10,348.91 229.70,348.82 247.50,348.63 256.10,347.93 265.30,346.29 273.90,343.48" fill="none" stroke="#1c5a8c" stroke-width="0.9" />
<polyline points="159.40,349.10 212.50,349.05 221.10,348.96 229.70,348.87 247.50,348.73 256.10,348.40 265.30,347.70 273.90,346.76" fill="none" stroke="#1c5a8c" stroke-width="0.9" />
<polyline points="159.40,349.10 212.50,348.91 221.10,348.73 229.70,348.44 247.50,346.76 256.10,340.68 265.30,339.74 273.90,335.06" fill="none" stroke="#1c5a8c" stroke-width="0.9" />
<polyline points="159.40,349.10 212.50,348.91 221.10,348.73 229.70,348.44 247.50,345.82 256.10,339.74 265.30,331.32 273.90,324.30" fill="none" stroke="#1c5a8c" stroke-width="0.9" />
<polyline points="159.40,349.10 212.50,348.96 221.10,348.82 229.70,348.54 247.50,347.23 256.10,344.89 265.30,340.68 273.90,337.40 282.60,339.74" fill="none" stroke="#1c5a8c" stroke-width="0.9" />
<polyline points="159.40,349.10 212.50,349.01 221.10,348.87 229.70,348.63 247.50,347.70 256.10,345.82 265.30,343.48 273.90,339.74 282.60,342.08" fill="none" stroke="#1c5a8c" stroke-width="0.9" />
<polyline points="159.40,349.10 212.50,348.96 221.10,348.73 229.70,348.16 247.50,345.36 256.10,342.55 265.30,339.74 273.90,338.34" fill="none" stroke="#1c5a8c" stroke-width="0.9" />
<polyline points="159.40,349.10 212.50,349.01 221.10,348.91 229.70,348.73 247.50,348.16 256.10,346.76 265.30,344.89 273.90,342.55 282.60,343.95" fill="none" stroke="#1c5a8c" stroke-width="0.9" />
<text x="414.70" y="246.60" font-size="8.4" text-anchor="middle">YUMMER1.7 (s.c.)</text>
<line x1="343.20" y1="254.80" x2="343.20" y2="349.00" stroke="#999" stroke-width="0.9" />
<line x1="339.70" y1="349.00" x2="343.20" y2="349.00" stroke="#aaa" stroke-width="0.8" />
<text x="336.90" y="351.80" font-size="8.0" text-anchor="end" fill="#3a3a3a">0</text>
<line x1="339.70" y1="325.50" x2="343.20" y2="325.50" stroke="#aaa" stroke-width="0.8" />
<text x="336.90" y="328.30" font-size="8.0" text-anchor="end" fill="#3a3a3a">200</text>
<line x1="339.70" y1="302.00" x2="343.20" y2="302.00" stroke="#aaa" stroke-width="0.8" />
<text x="336.90" y="304.80" font-size="8.0" text-anchor="end" fill="#3a3a3a">400</text>
<line x1="339.70" y1="278.40" x2="343.20" y2="278.40" stroke="#aaa" stroke-width="0.8" />
<text x="336.90" y="281.20" font-size="8.0" text-anchor="end" fill="#3a3a3a">600</text>
<line x1="339.70" y1="254.80" x2="343.20" y2="254.80" stroke="#aaa" stroke-width="0.8" />
<text x="336.90" y="257.60" font-size="8.0" text-anchor="end" fill="#3a3a3a">800</text>
<line x1="343.20" y1="349.00" x2="485.10" y2="349.00" stroke="#999" stroke-width="0.9" />
<line x1="349.20" y1="349.00" x2="349.20" y2="352.60" stroke="#999" stroke-width="0.8" />
<text x="351.80" y="356.50" font-size="7.2" text-anchor="end" fill="#3a3a3a" transform="rotate(-90 351.80 356.50)">Day 0</text>
<line x1="409.20" y1="349.00" x2="409.20" y2="352.60" stroke="#999" stroke-width="0.8" />
<text x="411.80" y="356.50" font-size="7.2" text-anchor="end" fill="#3a3a3a" transform="rotate(-90 411.80 356.50)">Day 6</text>
<line x1="429.30" y1="349.00" x2="429.30" y2="352.60" stroke="#999" stroke-width="0.8" />
<text x="431.90" y="356.50" font-size="7.2" text-anchor="end" fill="#3a3a3a" transform="rotate(-90 431.90 356.50)">Day 8</text>
<line x1="450.50" y1="349.00" x2="450.50" y2="352.60" stroke="#999" stroke-width="0.8" />
<text x="453.10" y="356.50" font-size="7.2" text-anchor="end" fill="#3a3a3a" transform="rotate(-90 453.10 356.50)">Day 11</text>
<line x1="470.60" y1="349.00" x2="470.60" y2="352.60" stroke="#999" stroke-width="0.8" />
<text x="473.20" y="356.50" font-size="7.2" text-anchor="end" fill="#3a3a3a" transform="rotate(-90 473.20 356.50)">Day 13</text>
<line x1="480.20" y1="349.00" x2="480.20" y2="352.60" stroke="#999" stroke-width="0.8" />
<text x="482.80" y="356.50" font-size="7.2" text-anchor="end" fill="#3a3a3a" transform="rotate(-90 482.80 356.50)">Day 14</text>
<polyline points="349.20,349.00 409.20,338.40 429.30,331.34 450.50,306.02 470.60,279.76 480.20,269.52" fill="none" stroke="#222" stroke-width="0.85" />
<polyline points="349.20,349.00 409.20,342.29 429.30,334.87 450.50,310.73 470.60,291.54 480.20,285.42" fill="none" stroke="#222" stroke-width="0.85" />
<polyline points="349.20,349.00 409.20,340.76 429.30,337.23 450.50,310.73 470.60,301.08 480.20,292.48" fill="none" stroke="#222" stroke-width="0.85" />
<polyline points="349.20,349.00 409.20,342.52 429.30,337.58 450.50,312.62 470.60,305.43 480.20,305.43" fill="none" stroke="#222" stroke-width="0.85" />
<polyline points="349.20,349.00 409.20,341.35 429.30,338.40 450.50,313.56 470.60,312.62 480.20,311.08" fill="none" stroke="#222" stroke-width="0.85" />
<polyline points="349.20,349.00 409.20,341.94 429.30,343.35 450.50,314.85 470.60,306.37 480.20,317.44" fill="none" stroke="#222" stroke-width="0.85" />
<polyline points="349.20,349.00 409.20,337.58 429.30,335.58 450.50,327.92 470.60,329.92 480.20,330.87" fill="none" stroke="#222" stroke-width="0.85" />
<polyline points="349.20,349.00 409.20,341.94 429.30,344.29 450.50,327.92 470.60,328.98 480.20,333.69" fill="none" stroke="#222" stroke-width="0.85" />
<polyline points="349.20,349.00 409.20,339.58 429.30,339.58 450.50,334.75 470.60,332.51 480.20,331.81" fill="none" stroke="#222" stroke-width="0.85" />
<polyline points="349.20,349.00 409.20,347.82 429.30,344.29 450.50,338.40 470.60,318.38 480.20,327.81" fill="none" stroke="#555" stroke-width="0.7" stroke-dasharray="1 0.9"/>
<polyline points="349.20,349.00 409.20,348.06 429.30,345.47 450.50,340.76 470.60,331.34 480.20,334.87" fill="none" stroke="#555" stroke-width="0.7" stroke-dasharray="1 0.9"/>
<polyline points="349.20,349.00 409.20,348.29 429.30,346.06 450.50,341.94 470.60,334.87 480.20,337.23" fill="none" stroke="#555" stroke-width="0.7" stroke-dasharray="1 0.9"/>
<polyline points="349.20,349.00 409.20,347.59 429.30,344.88 450.50,339.58 470.60,327.81 480.20,332.51" fill="none" stroke="#555" stroke-width="0.7" stroke-dasharray="1 0.9"/>
<polyline points="349.20,349.00 409.20,348.41 429.30,346.64 450.50,343.11 470.60,338.40 480.20,339.58" fill="none" stroke="#555" stroke-width="0.7" stroke-dasharray="1 0.9"/>
<polyline points="349.20,349.00 409.20,347.23 429.30,343.70 450.50,336.05 470.60,325.45 480.20,330.16" fill="none" stroke="#555" stroke-width="0.7" stroke-dasharray="1 0.9"/>
<polyline points="349.20,349.00 409.20,344.17 429.30,341.46 450.50,331.81 470.60,321.21 480.20,328.98" fill="none" stroke="#1c5a8c" stroke-width="0.9" />
<polyline points="349.20,349.00 409.20,344.88 429.30,342.52 450.50,338.40 470.60,337.58 480.20,340.40" fill="none" stroke="#1c5a8c" stroke-width="0.9" />
<polyline points="349.20,349.00 409.20,345.47 429.30,343.11 450.50,340.76 470.60,341.46 480.20,345.23" fill="none" stroke="#1c5a8c" stroke-width="0.9" />
<polyline points="349.20,349.00 409.20,343.70 429.30,340.76 450.50,336.05 470.60,330.16 480.20,331.81" fill="none" stroke="#1c5a8c" stroke-width="0.9" />
<polyline points="349.20,349.00 409.20,346.06 429.30,344.29 450.50,341.94 470.60,339.58 480.20,344.29" fill="none" stroke="#1c5a8c" stroke-width="0.9" />
<polyline points="349.20,349.00 409.20,345.47 429.30,343.11 450.50,340.17 470.60,334.87 480.20,336.05" fill="none" stroke="#1c5a8c" stroke-width="0.9" />
<polyline points="349.20,349.00 409.20,344.53 429.30,341.94 450.50,337.23 470.60,333.69 480.20,338.40" fill="none" stroke="#1c5a8c" stroke-width="0.9" />
<text x="605.50" y="246.60" font-size="8.4" text-anchor="middle">MC38 (s.c.)</text>
<line x1="534.80" y1="255.60" x2="534.80" y2="349.10" stroke="#999" stroke-width="0.9" />
<line x1="531.30" y1="349.10" x2="534.80" y2="349.10" stroke="#aaa" stroke-width="0.8" />
<text x="528.50" y="351.90" font-size="8.0" text-anchor="end" fill="#3a3a3a">0</text>
<line x1="531.30" y1="317.90" x2="534.80" y2="317.90" stroke="#aaa" stroke-width="0.8" />
<text x="528.50" y="320.70" font-size="8.0" text-anchor="end" fill="#3a3a3a">500</text>
<line x1="531.30" y1="286.80" x2="534.80" y2="286.80" stroke="#aaa" stroke-width="0.8" />
<text x="528.50" y="289.60" font-size="8.0" text-anchor="end" fill="#3a3a3a">1,000</text>
<line x1="531.30" y1="255.60" x2="534.80" y2="255.60" stroke="#aaa" stroke-width="0.8" />
<text x="528.50" y="258.40" font-size="8.0" text-anchor="end" fill="#3a3a3a">1,500</text>
<line x1="534.80" y1="349.10" x2="674.00" y2="349.10" stroke="#999" stroke-width="0.9" />
<line x1="538.30" y1="349.10" x2="538.30" y2="352.70" stroke="#999" stroke-width="0.8" />
<text x="540.90" y="356.50" font-size="7.2" text-anchor="end" fill="#3a3a3a" transform="rotate(-90 540.90 356.50)">Day 0</text>
<line x1="573.10" y1="349.10" x2="573.10" y2="352.70" stroke="#999" stroke-width="0.8" />
<text x="575.70" y="356.50" font-size="7.2" text-anchor="end" fill="#3a3a3a" transform="rotate(-90 575.70 356.50)">Day 6</text>
<line x1="584.80" y1="349.10" x2="584.80" y2="352.70" stroke="#999" stroke-width="0.8" />
<text x="587.40" y="356.50" font-size="7.2" text-anchor="end" fill="#3a3a3a" transform="rotate(-90 587.40 356.50)">Day 8</text>
<line x1="596.70" y1="349.10" x2="596.70" y2="352.70" stroke="#999" stroke-width="0.8" />
<text x="599.30" y="356.50" font-size="7.2" text-anchor="end" fill="#3a3a3a" transform="rotate(-90 599.30 356.50)">Day 11</text>
<line x1="608.80" y1="349.10" x2="608.80" y2="352.70" stroke="#999" stroke-width="0.8" />
<text x="611.40" y="356.50" font-size="7.2" text-anchor="end" fill="#3a3a3a" transform="rotate(-90 611.40 356.50)">Day 13</text>
<line x1="626.00" y1="349.10" x2="626.00" y2="352.70" stroke="#999" stroke-width="0.8" />
<text x="628.60" y="356.50" font-size="7.2" text-anchor="end" fill="#3a3a3a" transform="rotate(-90 628.60 356.50)">Day 16</text>
<line x1="637.60" y1="349.10" x2="637.60" y2="352.70" stroke="#999" stroke-width="0.8" />
<text x="640.20" y="356.50" font-size="7.2" text-anchor="end" fill="#3a3a3a" transform="rotate(-90 640.20 356.50)">Day 18</text>
<line x1="649.50" y1="349.10" x2="649.50" y2="352.70" stroke="#999" stroke-width="0.8" />
<text x="652.10" y="356.50" font-size="7.2" text-anchor="end" fill="#3a3a3a" transform="rotate(-90 652.10 356.50)">Day 20</text>
<line x1="661.00" y1="349.10" x2="661.00" y2="352.70" stroke="#999" stroke-width="0.8" />
<text x="663.60" y="356.50" font-size="7.2" text-anchor="end" fill="#3a3a3a" transform="rotate(-90 663.60 356.50)">Day 22</text>
<line x1="672.50" y1="349.10" x2="672.50" y2="352.70" stroke="#999" stroke-width="0.8" />
<text x="675.10" y="356.50" font-size="7.2" text-anchor="end" fill="#3a3a3a" transform="rotate(-90 675.10 356.50)">Day 24</text>
<polyline points="538.30,349.10 573.10,347.85 584.80,347.23 596.70,346.61 608.80,345.36 626.00,344.11 637.60,341.62 649.50,337.88 661.00,333.52 672.50,330.40" fill="none" stroke="#555" stroke-width="0.7" stroke-dasharray="1 0.9"/>
<polyline points="538.30,349.10 573.10,348.17 584.80,347.54 596.70,346.92 608.80,345.98 626.00,344.74 637.60,342.87 649.50,339.75 661.00,336.63 672.50,335.39" fill="none" stroke="#555" stroke-width="0.7" stroke-dasharray="1 0.9"/>
<polyline points="538.30,349.10 573.10,348.48 584.80,347.85 596.70,347.23 608.80,346.61 626.00,345.36 637.60,344.11 649.50,342.87 661.00,339.75 672.50,341.00" fill="none" stroke="#555" stroke-width="0.7" stroke-dasharray="1 0.9"/>
<polyline points="538.30,349.10 573.10,348.35 584.80,347.73 596.70,347.23 608.80,346.30 626.00,343.49 637.60,339.75 649.50,336.63 661.00,331.65 672.50,327.28" fill="none" stroke="#555" stroke-width="0.7" stroke-dasharray="1 0.9"/>
<polyline points="538.30,349.10 573.10,348.17 584.80,347.23 596.70,345.98 608.80,344.74 626.00,339.13 637.60,337.88 649.50,336.63 661.00,333.52 672.50,334.70" fill="none" stroke="#1c5a8c" stroke-width="0.9" />
<polyline points="538.30,349.10 573.10,348.48 584.80,347.85 596.70,347.23 608.80,345.98 626.00,344.11 637.60,340.37 649.50,341.62 661.00,342.87 672.50,339.50" fill="none" stroke="#1c5a8c" stroke-width="0.9" />
<polyline points="538.30,349.10 573.10,348.48 584.80,347.85 596.70,346.92 608.80,346.61 626.00,345.36 637.60,342.87 649.50,342.24 661.00,341.62 672.50,341.00" fill="none" stroke="#1c5a8c" stroke-width="0.9" />
<polyline points="538.30,349.10 573.10,348.35 584.80,347.54 596.70,346.61 608.80,345.98 626.00,343.49 637.60,341.00 649.50,339.75 661.00,338.50 672.50,348.17" fill="none" stroke="#1c5a8c" stroke-width="0.9" />
<polyline points="538.30,349.10 573.10,346.61 584.80,344.11 596.70,339.75 608.80,337.88 626.00,336.63 637.60,335.64 649.50,312.63 661.00,290.57 672.50,263.20" fill="none" stroke="#222" stroke-width="0.85" />
<polyline points="538.30,349.10 573.10,346.92 584.80,344.74 596.70,341.00 608.80,338.50 626.00,337.88 637.60,334.70 649.50,310.76 661.00,292.44 672.50,277.79" fill="none" stroke="#222" stroke-width="0.85" />
<polyline points="538.30,349.10 573.10,347.23 584.80,345.36 596.70,341.62 608.80,339.75 626.00,337.88 637.60,333.52 649.50,317.93 661.00,299.23 672.50,280.10" fill="none" stroke="#222" stroke-width="0.85" />
<polyline points="538.30,349.10 573.10,347.54 584.80,345.36 596.70,340.37 608.80,338.00 626.00,331.83 637.60,316.87 649.50,316.87 661.00,305.47 672.50,295.37" fill="none" stroke="#222" stroke-width="0.85" />
<polyline points="538.30,349.10 573.10,347.23 584.80,345.67 596.70,342.24 608.80,339.13 626.00,340.37 637.60,337.88 649.50,330.40 661.00,317.43 672.50,304.03" fill="none" stroke="#222" stroke-width="0.85" />
<polyline points="538.30,349.10 573.10,347.85 584.80,345.98 596.70,341.62 608.80,340.37 626.00,341.00 637.60,339.13 649.50,333.52 661.00,322.23 672.50,314.94" fill="none" stroke="#222" stroke-width="0.85" />
<polyline points="538.30,349.10 573.10,347.54 584.80,346.30 596.70,342.87 608.80,341.62 626.00,342.24 637.60,340.37 649.50,336.63 661.00,330.40 672.50,317.43" fill="none" stroke="#222" stroke-width="0.85" />
<polyline points="538.30,349.10 573.10,348.17 584.80,346.61 596.70,343.49 608.80,342.87 626.00,342.87 637.60,341.62 649.50,339.75 661.00,336.63 672.50,333.70" fill="none" stroke="#222" stroke-width="0.85" />
<polyline points="538.30,349.10 573.10,347.85 584.80,346.92 596.70,344.11 608.80,342.24 626.00,343.49 637.60,342.87 649.50,341.62 661.00,339.75 672.50,334.14" fill="none" stroke="#222" stroke-width="0.85" />
<polyline points="538.30,349.10 573.10,348.48 584.80,347.23 596.70,345.36 608.80,344.11 626.00,344.11 637.60,343.49 649.50,342.87 661.00,341.62 672.50,342.31" fill="none" stroke="#222" stroke-width="0.85" />
<polyline points="538.30,349.10 573.10,347.85 584.80,346.61 596.70,345.36 608.80,343.49 626.00,339.75 637.60,325.10 649.50,327.72 661.00,328.03 672.50,321.24" fill="none" stroke="#1c5a8c" stroke-width="0.9" />
<polyline points="538.30,349.10 573.10,348.17 584.80,347.23 596.70,345.98 608.80,344.74 626.00,341.62 637.60,330.40 649.50,328.53 661.00,329.03 672.50,326.41" fill="none" stroke="#1c5a8c" stroke-width="0.9" />
<polyline points="538.30,349.10 573.10,348.35 584.80,347.54 596.70,346.61 608.80,345.36 626.00,339.75 637.60,336.63 649.50,331.65 661.00,330.40 672.50,327.91" fill="none" stroke="#1c5a8c" stroke-width="0.9" />
<text x="0.3" y="394.7" font-size="12.2" font-weight="bold" fill="#111" stroke="#111" stroke-width="0.45">d</text>
<text x="69.60" y="397.60" font-size="8.4" text-anchor="middle">B16 (i.d.)</text>
<line x1="45.50" y1="409.40" x2="45.50" y2="514.40" stroke="#555" stroke-width="0.9" />
<line x1="42.00" y1="514.40" x2="45.50" y2="514.40" stroke="#666" stroke-width="0.8" />
<text x="39.20" y="516.70" font-size="7.6" text-anchor="end" fill="#3a3a3a">0</text>
<line x1="42.00" y1="479.40" x2="45.50" y2="479.40" stroke="#666" stroke-width="0.8" />
<text x="39.20" y="481.70" font-size="7.6" text-anchor="end" fill="#3a3a3a">0.5</text>
<line x1="42.00" y1="444.40" x2="45.50" y2="444.40" stroke="#666" stroke-width="0.8" />
<text x="39.20" y="446.70" font-size="7.6" text-anchor="end" fill="#3a3a3a">1.0</text>
<line x1="42.00" y1="409.40" x2="45.50" y2="409.40" stroke="#666" stroke-width="0.8" />
<text x="39.20" y="411.70" font-size="7.6" text-anchor="end" fill="#3a3a3a">1.5</text>
<line x1="45.50" y1="514.40" x2="93.50" y2="514.40" stroke="#555" stroke-width="0.9" />
<text x="20.4" y="462.2" font-size="9.2" text-anchor="middle" transform="rotate(-90 20.4 462.2)">Tumor weight (g)</text>
<rect x="50.30" y="458.00" width="9.20" height="56.40" fill="#fff" stroke="#555" stroke-width="0.7"/>
<line x1="54.90" y1="449.90" x2="54.90" y2="471.10" stroke="#555" stroke-width="0.6" />
<line x1="53.10" y1="449.90" x2="56.70" y2="449.90" stroke="#555" stroke-width="0.6" />
<line x1="53.10" y1="471.10" x2="56.70" y2="471.10" stroke="#555" stroke-width="0.6" />
<circle cx="55.00" cy="441.30" r="2.25" fill="#1a1a1a"/>
<circle cx="55.00" cy="445.90" r="2.25" fill="#1a1a1a"/>
<circle cx="55.00" cy="484.30" r="2.25" fill="#1a1a1a"/>
<rect x="65.30" y="494.40" width="8.30" height="20.00" fill="#fff" stroke="#555" stroke-width="0.7"/>
<line x1="69.45" y1="490.30" x2="69.45" y2="498.60" stroke="#555" stroke-width="0.6" />
<line x1="67.65" y1="490.30" x2="71.25" y2="490.30" stroke="#555" stroke-width="0.6" />
<line x1="67.65" y1="498.60" x2="71.25" y2="498.60" stroke="#555" stroke-width="0.6" />
<rect x="67.85" y="473.25" width="3.50" height="3.50" fill="#1b5b8c" stroke="#1a3f5f" stroke-width="0.4"/>
<rect x="67.85" y="477.15" width="3.50" height="3.50" fill="#1b5b8c" stroke="#1a3f5f" stroke-width="0.4"/>
<rect x="64.85" y="486.65" width="3.50" height="3.50" fill="#1b5b8c" stroke="#1a3f5f" stroke-width="0.4"/>
<rect x="68.05" y="488.95" width="3.50" height="3.50" fill="#1b5b8c" stroke="#1a3f5f" stroke-width="0.4"/>
<rect x="64.85" y="501.45" width="3.50" height="3.50" fill="#1b5b8c" stroke="#1a3f5f" stroke-width="0.4"/>
<rect x="67.85" y="501.45" width="3.50" height="3.50" fill="#1b5b8c" stroke="#1a3f5f" stroke-width="0.4"/>
<rect x="70.65" y="501.45" width="3.50" height="3.50" fill="#1b5b8c" stroke="#1a3f5f" stroke-width="0.4"/>
<rect x="64.85" y="505.65" width="3.50" height="3.50" fill="#1b5b8c" stroke="#1a3f5f" stroke-width="0.4"/>
<rect x="79.30" y="500.40" width="9.50" height="14.00" fill="#fff" stroke="#555" stroke-width="0.7"/>
<line x1="84.05" y1="497.00" x2="84.05" y2="503.50" stroke="#555" stroke-width="0.6" />
<line x1="82.25" y1="497.00" x2="85.85" y2="497.00" stroke="#555" stroke-width="0.6" />
<line x1="82.25" y1="503.50" x2="85.85" y2="503.50" stroke="#555" stroke-width="0.6" />
<path d="M81.60,492.81L83.80,488.99L86.00,492.81Z" fill="#fff" stroke="#333" stroke-width="0.5" stroke-linejoin="miter"/>
<path d="M84.30,497.51L86.50,493.69L88.70,497.51Z" fill="#fff" stroke="#333" stroke-width="0.5" stroke-linejoin="miter"/>
<path d="M79.50,500.51L81.70,496.69L83.90,500.51Z" fill="#fff" stroke="#333" stroke-width="0.5" stroke-linejoin="miter"/>
<path d="M80.90,504.41L83.10,500.59L85.30,504.41Z" fill="#fff" stroke="#333" stroke-width="0.5" stroke-linejoin="miter"/>
<path d="M83.70,507.61L85.90,503.79L88.10,507.61Z" fill="#fff" stroke="#333" stroke-width="0.5" stroke-linejoin="miter"/>
<path d="M79.20,507.61L81.40,503.79L83.60,507.61Z" fill="#fff" stroke="#333" stroke-width="0.5" stroke-linejoin="miter"/>
<line x1="52.10" y1="420.40" x2="90.90" y2="420.40" stroke="#444" stroke-width="0.9" />
<text x="71.50" y="417.60" font-size="6.7" text-anchor="middle" fill="#444"><tspan font-style="italic">P</tspan> = 0.0025</text>
<line x1="52.10" y1="430.30" x2="72.70" y2="430.30" stroke="#555" stroke-width="0.9" />
<text x="51.30" y="427.90" font-size="6.7" fill="#444"><tspan font-style="italic">P</tspan> = 0.0039</text>
<text x="164.20" y="397.60" font-size="8.4" text-anchor="middle">YUMMER1.7 (s.c.)</text>
<line x1="140.20" y1="409.80" x2="140.20" y2="514.10" stroke="#555" stroke-width="0.9" />
<line x1="136.70" y1="514.10" x2="140.20" y2="514.10" stroke="#666" stroke-width="0.8" />
<text x="133.90" y="516.40" font-size="7.6" text-anchor="end" fill="#3a3a3a">0</text>
<line x1="136.70" y1="482.10" x2="140.20" y2="482.10" stroke="#666" stroke-width="0.8" />
<text x="133.90" y="484.40" font-size="7.6" text-anchor="end" fill="#3a3a3a">0.2</text>
<line x1="136.70" y1="450.10" x2="140.20" y2="450.10" stroke="#666" stroke-width="0.8" />
<text x="133.90" y="452.40" font-size="7.6" text-anchor="end" fill="#3a3a3a">0.4</text>
<line x1="136.70" y1="418.10" x2="140.20" y2="418.10" stroke="#666" stroke-width="0.8" />
<text x="133.90" y="420.40" font-size="7.6" text-anchor="end" fill="#3a3a3a">0.6</text>
<line x1="140.20" y1="514.10" x2="185.90" y2="514.10" stroke="#555" stroke-width="0.9" />
<rect x="145.60" y="472.10" width="9.00" height="42.00" fill="#fff" stroke="#555" stroke-width="0.7"/>
<line x1="150.10" y1="469.80" x2="150.10" y2="476.70" stroke="#555" stroke-width="0.6" />
<line x1="148.30" y1="469.80" x2="151.90" y2="469.80" stroke="#555" stroke-width="0.6" />
<line x1="148.30" y1="476.70" x2="151.90" y2="476.70" stroke="#555" stroke-width="0.6" />
<circle cx="150.30" cy="442.30" r="2.25" fill="#1a1a1a"/>
<circle cx="150.30" cy="450.00" r="2.25" fill="#1a1a1a"/>
<circle cx="148.20" cy="465.80" r="2.25" fill="#1a1a1a"/>
<circle cx="151.10" cy="465.80" r="2.25" fill="#1a1a1a"/>
<circle cx="152.80" cy="469.20" r="2.25" fill="#1a1a1a"/>
<circle cx="150.00" cy="472.70" r="2.25" fill="#1a1a1a"/>
<circle cx="148.80" cy="480.50" r="2.25" fill="#1a1a1a"/>
<circle cx="151.50" cy="480.50" r="2.25" fill="#1a1a1a"/>
<circle cx="150.00" cy="493.40" r="2.25" fill="#1a1a1a"/>
<circle cx="150.00" cy="498.00" r="2.25" fill="#1a1a1a"/>
<rect x="160.30" y="499.10" width="8.30" height="15.00" fill="#fff" stroke="#555" stroke-width="0.7"/>
<line x1="164.45" y1="496.00" x2="164.45" y2="502.00" stroke="#555" stroke-width="0.6" />
<line x1="162.65" y1="496.00" x2="166.25" y2="496.00" stroke="#555" stroke-width="0.6" />
<line x1="162.65" y1="502.00" x2="166.25" y2="502.00" stroke="#555" stroke-width="0.6" />
<rect x="162.55" y="486.75" width="3.50" height="3.50" fill="#1b5b8c" stroke="#1a3f5f" stroke-width="0.4"/>
<rect x="162.55" y="493.05" width="3.50" height="3.50" fill="#1b5b8c" stroke="#1a3f5f" stroke-width="0.4"/>
<rect x="159.75" y="499.45" width="3.50" height="3.50" fill="#1b5b8c" stroke="#1a3f5f" stroke-width="0.4"/>
<rect x="165.85" y="501.05" width="3.50" height="3.50" fill="#1b5b8c" stroke="#1a3f5f" stroke-width="0.4"/>
<rect x="162.95" y="504.25" width="3.50" height="3.50" fill="#1b5b8c" stroke="#1a3f5f" stroke-width="0.4"/>
<rect x="159.75" y="507.75" width="3.50" height="3.50" fill="#1b5b8c" stroke="#1a3f5f" stroke-width="0.4"/>
<rect x="165.85" y="506.05" width="3.50" height="3.50" fill="#1b5b8c" stroke="#1a3f5f" stroke-width="0.4"/>
<rect x="174.40" y="487.60" width="8.70" height="26.50" fill="#fff" stroke="#555" stroke-width="0.7"/>
<line x1="178.75" y1="484.40" x2="178.75" y2="491.50" stroke="#555" stroke-width="0.6" />
<line x1="176.95" y1="484.40" x2="180.55" y2="484.40" stroke="#555" stroke-width="0.6" />
<line x1="176.95" y1="491.50" x2="180.55" y2="491.50" stroke="#555" stroke-width="0.6" />
<path d="M179.40,471.11L181.60,467.29L183.80,471.11Z" fill="#fff" stroke="#333" stroke-width="0.5" stroke-linejoin="miter"/>
<path d="M176.50,474.61L178.70,470.79L180.90,474.61Z" fill="#fff" stroke="#333" stroke-width="0.5" stroke-linejoin="miter"/>
<path d="M174.20,491.21L176.40,487.39L178.60,491.21Z" fill="#fff" stroke="#333" stroke-width="0.5" stroke-linejoin="miter"/>
<path d="M177.80,491.21L180.00,487.39L182.20,491.21Z" fill="#fff" stroke="#333" stroke-width="0.5" stroke-linejoin="miter"/>
<path d="M174.30,496.41L176.50,492.59L178.70,496.41Z" fill="#fff" stroke="#333" stroke-width="0.5" stroke-linejoin="miter"/>
<path d="M179.80,499.31L182.00,495.49L184.20,499.31Z" fill="#fff" stroke="#333" stroke-width="0.5" stroke-linejoin="miter"/>
<path d="M173.80,502.81L176.00,498.99L178.20,502.81Z" fill="#fff" stroke="#333" stroke-width="0.5" stroke-linejoin="miter"/>
<path d="M177.30,493.91L179.50,490.09L181.70,493.91Z" fill="#fff" stroke="#333" stroke-width="0.5" stroke-linejoin="miter"/>
<line x1="147.10" y1="415.80" x2="185.80" y2="415.80" stroke="#444" stroke-width="0.9" />
<text x="166.45" y="413.20" font-size="6.7" text-anchor="middle" fill="#444"><tspan font-style="italic">P</tspan> = 0.0345</text>
<line x1="147.10" y1="430.60" x2="167.70" y2="430.60" stroke="#555" stroke-width="0.9" />
<text x="146.30" y="427.80" font-size="6.7" fill="#444"><tspan font-style="italic">P</tspan> = 0.0004</text>
<text x="260.60" y="397.60" font-size="8.4" text-anchor="middle">MC38 (s.c.)</text>
<line x1="235.30" y1="407.40" x2="235.30" y2="516.70" stroke="#555" stroke-width="0.9" />
<line x1="231.80" y1="516.70" x2="235.30" y2="516.70" stroke="#666" stroke-width="0.8" />
<text x="229.00" y="519.00" font-size="7.6" text-anchor="end" fill="#3a3a3a">0</text>
<line x1="231.80" y1="480.30" x2="235.30" y2="480.30" stroke="#666" stroke-width="0.8" />
<text x="229.00" y="482.60" font-size="7.6" text-anchor="end" fill="#3a3a3a">0.5</text>
<line x1="231.80" y1="443.90" x2="235.30" y2="443.90" stroke="#666" stroke-width="0.8" />
<text x="229.00" y="446.20" font-size="7.6" text-anchor="end" fill="#3a3a3a">1.0</text>
<line x1="231.80" y1="407.40" x2="235.30" y2="407.40" stroke="#666" stroke-width="0.8" />
<text x="229.00" y="409.70" font-size="7.6" text-anchor="end" fill="#3a3a3a">1.5</text>
<line x1="235.30" y1="516.70" x2="283.00" y2="516.70" stroke="#555" stroke-width="0.9" />
<rect x="241.10" y="478.20" width="9.70" height="38.50" fill="#fff" stroke="#555" stroke-width="0.7"/>
<line x1="245.95" y1="471.30" x2="245.95" y2="484.00" stroke="#555" stroke-width="0.6" />
<line x1="244.15" y1="471.30" x2="247.75" y2="471.30" stroke="#555" stroke-width="0.6" />
<line x1="244.15" y1="484.00" x2="247.75" y2="484.00" stroke="#555" stroke-width="0.6" />
<circle cx="245.60" cy="433.80" r="2.25" fill="#1a1a1a"/>
<circle cx="245.60" cy="448.10" r="2.25" fill="#1a1a1a"/>
<circle cx="245.60" cy="462.80" r="2.25" fill="#1a1a1a"/>
<circle cx="245.60" cy="465.80" r="2.25" fill="#1a1a1a"/>
<circle cx="245.60" cy="468.60" r="2.25" fill="#1a1a1a"/>
<circle cx="245.60" cy="482.40" r="2.25" fill="#1a1a1a"/>
<circle cx="245.60" cy="487.40" r="2.25" fill="#1a1a1a"/>
<circle cx="245.60" cy="492.20" r="2.25" fill="#1a1a1a"/>
<circle cx="245.60" cy="496.70" r="2.25" fill="#1a1a1a"/>
<circle cx="245.60" cy="506.70" r="2.25" fill="#1a1a1a"/>
<rect x="256.10" y="499.80" width="8.30" height="16.90" fill="#fff" stroke="#555" stroke-width="0.7"/>
<line x1="260.25" y1="495.00" x2="260.25" y2="505.00" stroke="#555" stroke-width="0.6" />
<line x1="258.45" y1="495.00" x2="262.05" y2="495.00" stroke="#555" stroke-width="0.6" />
<line x1="258.45" y1="505.00" x2="262.05" y2="505.00" stroke="#555" stroke-width="0.6" />
<rect x="258.55" y="474.35" width="3.50" height="3.50" fill="#1b5b8c" stroke="#1a3f5f" stroke-width="0.4"/>
<rect x="258.55" y="490.15" width="3.50" height="3.50" fill="#1b5b8c" stroke="#1a3f5f" stroke-width="0.4"/>
<rect x="255.65" y="494.75" width="3.50" height="3.50" fill="#1b5b8c" stroke="#1a3f5f" stroke-width="0.4"/>
<rect x="261.95" y="497.05" width="3.50" height="3.50" fill="#1b5b8c" stroke="#1a3f5f" stroke-width="0.4"/>
<rect x="258.55" y="501.05" width="3.50" height="3.50" fill="#1b5b8c" stroke="#1a3f5f" stroke-width="0.4"/>
<rect x="261.95" y="511.25" width="3.50" height="3.50" fill="#1b5b8c" stroke="#1a3f5f" stroke-width="0.4"/>
<rect x="255.65" y="513.45" width="3.50" height="3.50" fill="#1b5b8c" stroke="#1a3f5f" stroke-width="0.4"/>
<rect x="270.40" y="499.30" width="9.50" height="17.40" fill="#fff" stroke="#555" stroke-width="0.7"/>
<line x1="275.15" y1="495.00" x2="275.15" y2="503.50" stroke="#555" stroke-width="0.6" />
<line x1="273.35" y1="495.00" x2="276.95" y2="495.00" stroke="#555" stroke-width="0.6" />
<line x1="273.35" y1="503.50" x2="276.95" y2="503.50" stroke="#555" stroke-width="0.6" />
<path d="M273.50,482.21L275.70,478.39L277.90,482.21Z" fill="#fff" stroke="#333" stroke-width="0.5" stroke-linejoin="miter"/>
<path d="M270.00,495.21L272.20,491.39L274.40,495.21Z" fill="#fff" stroke="#333" stroke-width="0.5" stroke-linejoin="miter"/>
<path d="M276.10,495.21L278.30,491.39L280.50,495.21Z" fill="#fff" stroke="#333" stroke-width="0.5" stroke-linejoin="miter"/>
<path d="M273.50,496.81L275.70,492.99L277.90,496.81Z" fill="#fff" stroke="#333" stroke-width="0.5" stroke-linejoin="miter"/>
<path d="M270.00,506.21L272.20,502.39L274.40,506.21Z" fill="#fff" stroke="#333" stroke-width="0.5" stroke-linejoin="miter"/>
<path d="M275.60,511.31L277.80,507.49L280.00,511.31Z" fill="#fff" stroke="#333" stroke-width="0.5" stroke-linejoin="miter"/>
<path d="M270.00,514.41L272.20,510.59L274.40,514.41Z" fill="#fff" stroke="#333" stroke-width="0.5" stroke-linejoin="miter"/>
<path d="M275.80,503.91L278.00,500.09L280.20,503.91Z" fill="#fff" stroke="#333" stroke-width="0.5" stroke-linejoin="miter"/>
<line x1="242.30" y1="419.20" x2="284.00" y2="419.20" stroke="#444" stroke-width="0.9" />
<text x="263.15" y="416.50" font-size="6.7" text-anchor="middle" fill="#444"><tspan font-style="italic">P</tspan> = 0.0342</text>
<line x1="242.30" y1="429.30" x2="264.00" y2="429.30" stroke="#555" stroke-width="0.9" />
<text x="241.50" y="426.90" font-size="6.7" fill="#444"><tspan font-style="italic">P</tspan> = 0.0413</text>
<circle cx="308.80" cy="434.90" r="3.5" fill="#1a1a1a"/>
<text x="318.90" y="438.10" font-size="8.65" font-style="italic">Il23r<tspan font-size="6.05" font-style="normal" letter-spacing="0.6" dy="-3.89">fl/fl</tspan></text>
<rect x="304.90" y="449.40" width="7.00" height="7.00" fill="#1b5b8c" stroke="#1a3f5f" stroke-width="0.4"/>
<text x="318.90" y="455.70" font-size="8.65" font-style="italic">Foxp3<tspan font-size="6.05" font-style="normal" letter-spacing="-0.1" dy="-3.89">Cre-YFP</tspan><tspan dy="3.89">Il23r</tspan><tspan font-size="6.05" font-style="normal" letter-spacing="0.6" dy="-3.89">fl/fl</tspan></text>
<path d="M304.2,474.5 L308.3,466.2 L312.4,474.5 Z" fill="#fff" stroke="#333" stroke-width="0.7"/>
<text x="318.90" y="472.70" font-size="8.65" font-style="italic">Il23r<tspan font-size="6.05" font-style="normal" letter-spacing="0.45" dy="-3.89">del/del</tspan></text>
</svg>
</body></html>
